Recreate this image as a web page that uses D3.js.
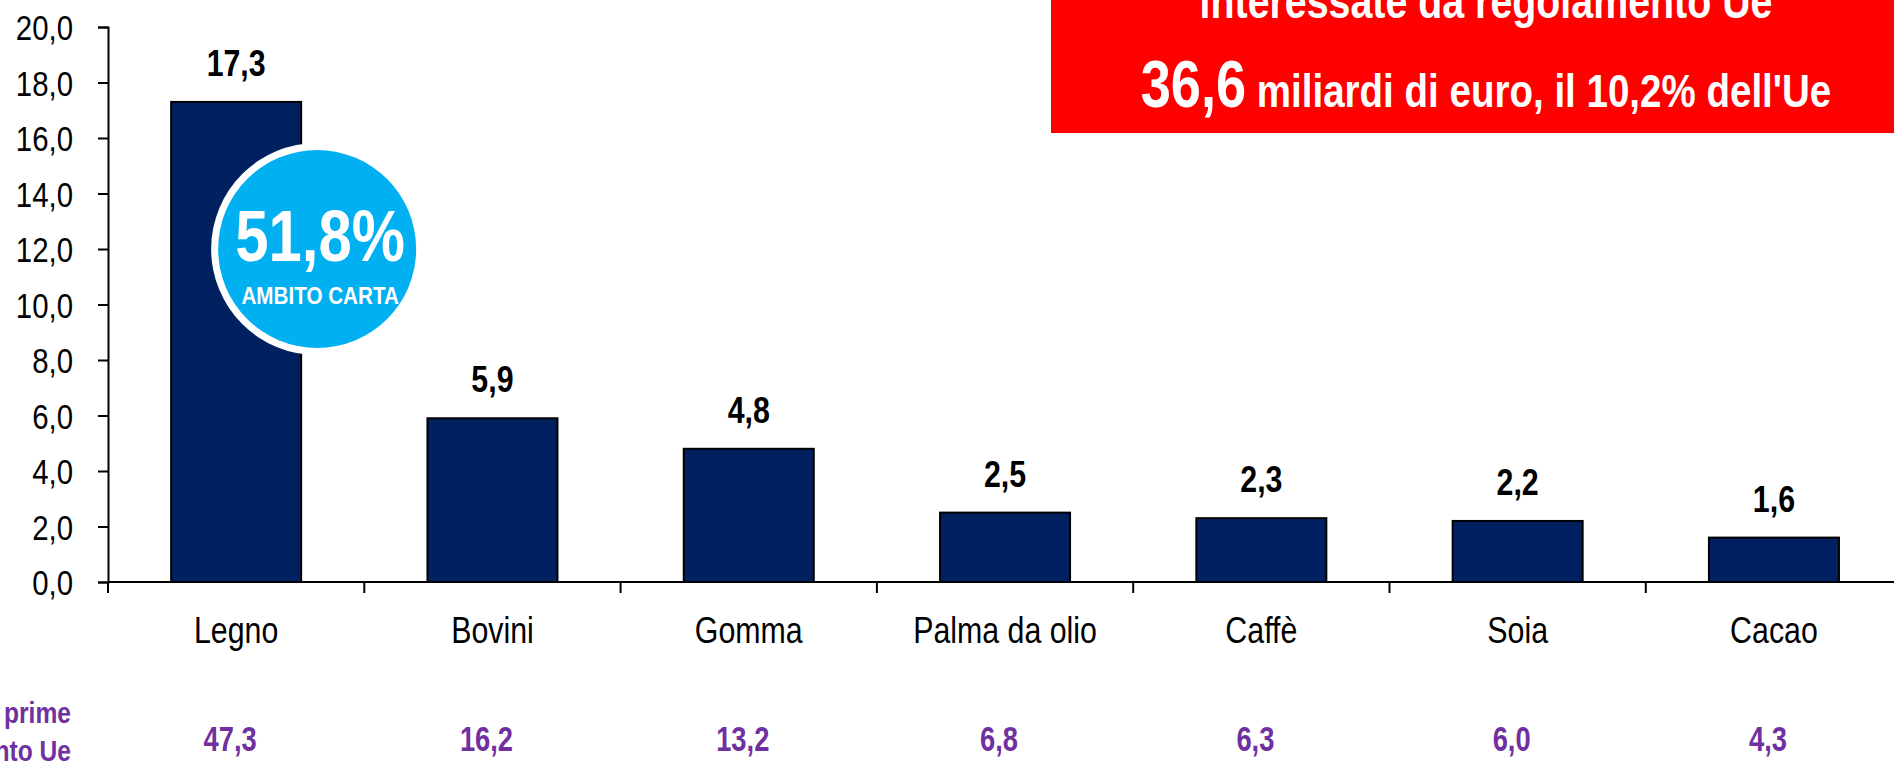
<!DOCTYPE html>
<html>
<head>
<meta charset="UTF-8">
<title>Materie prime interessate da regolamento Ue</title>
<script src="https://cdn.jsdelivr.net/npm/d3@7"></script>
<style>
body { margin: 0; background: #fff; }
svg { display: block; font-family: "Liberation Sans", Arial, sans-serif; }
.bar { fill: #002060; stroke: #000; stroke-width: 2px; }
.axis path, .axis line { stroke: #000; stroke-width: 2px; }
.axis text { font-size: 35px; fill: #000; }
.val { font-size: 37px; font-weight: bold; fill: #000; text-anchor: middle; }
.cat { font-size: 37px; fill: #000; text-anchor: middle; }
.share { font-size: 35px; font-weight: bold; fill: #7030a0; text-anchor: middle; }
.rowlab { font-size: 30px; font-weight: bold; fill: #7030a0; text-anchor: end; }
.box text { fill: #fff; font-weight: bold; }
.bubble text { fill: #fff; font-weight: bold; text-anchor: middle; }
</style>
</head>
<body>
<svg width="1894" height="767"></svg>
<script>
// dati
var categories = ["Legno", "Bovini", "Gomma", "Palma da olio", "Caffè", "Soia", "Cacao"];
var values = [17.3, 5.9, 4.8, 2.5, 2.3, 2.2, 1.6];
var euShare = [47.3, 16.2, 13.2, 6.8, 6.3, 6.0, 4.3];
var yTicks = [0, 2, 4, 6, 8, 10, 12, 14, 16, 18, 20];
var rowLabel = ["Quota % sulle materie prime", "interessate da regolamento Ue"];
var boxTitle = "interessate da regolamento Ue";
var boxTotal = "36,6";
var boxRest = " miliardi di euro, il 10,2% dell'Ue";
var bubbleValue = "51,8%";
var bubbleLabel = "AMBITO CARTA";

var svg = d3.select("svg");
var left = 108, axisY = 582, plotTop = 27, band = 256.3;
var narrow = 0.82;

function fmt(v) { return d3.format(".1f")(v).replace(".", ","); }
function place(x, y, k) { return "translate(" + x + "," + y + ") scale(" + (k || narrow) + ",1)"; }

var x = d3.scaleBand().domain(categories).range([left, left + band * categories.length]).padding(0);
var y = d3.scaleLinear().domain([0, 20]).range([axisY, plotTop]);
var barW = 130;
var cx = function(d) { return x(d) + x.bandwidth() / 2; };

// asse y
var yAxis = svg.append("g").attr("class", "axis")
    .attr("transform", "translate(" + left + ",0)")
    .call(d3.axisLeft(y).tickValues(yTicks).tickFormat(fmt).tickSize(10).tickSizeOuter(10));
yAxis.selectAll("text")
    .attr("x", null).attr("dy", "0.36em")
    .attr("transform", "translate(-35,0) scale(0.84,1)");

// barre
svg.selectAll(".bar")
  .data(categories)
  .enter().append("rect")
    .attr("class", "bar")
    .attr("x", function(d) { return cx(d) - barW / 2; })
    .attr("y", function(d, i) { return y(values[i]); })
    .attr("width", barW)
    .attr("height", function(d, i) { return y(0) - y(values[i]); });

// asse x con tacche fra le categorie
var xg = svg.append("g").attr("class", "axis");
xg.append("line")
    .attr("x1", left).attr("x2", x.range()[1] + 20)
    .attr("y1", axisY).attr("y2", axisY);
xg.selectAll(".tick")
  .data(categories.map(function(d) { return x(d); }).concat([x.range()[1]]))
  .enter().append("line")
    .attr("x1", function(d) { return d; }).attr("x2", function(d) { return d; })
    .attr("y1", axisY).attr("y2", axisY + 11);

// etichette valori
svg.selectAll(".val")
  .data(categories)
  .enter().append("text")
    .attr("class", "val")
    .attr("transform", function(d, i) { return place(cx(d), y(values[i]) - 26); })
    .text(function(d, i) { return fmt(values[i]); });

svg.selectAll(".cat")
  .data(categories)
  .enter().append("text")
    .attr("class", "cat")
    .attr("transform", function(d) { return place(cx(d), axisY + 61); })
    .text(function(d) { return d; });

svg.selectAll(".share")
  .data(categories)
  .enter().append("text")
    .attr("class", "share")
    .attr("transform", function(d) { return place(cx(d) - 6, axisY + 169, 0.78); })
    .text(function(d, i) { return fmt(euShare[i]); });

svg.selectAll(".rowlab")
  .data(rowLabel)
  .enter().append("text")
    .attr("class", "rowlab")
    .attr("transform", function(d, i) { return place(71, 723 + i * 38); })
    .text(function(d) { return d; });

// riquadro rosso
var box = svg.append("g").attr("class", "box");
box.append("rect").attr("x", 1051).attr("y", -10).attr("width", 900).attr("height", 143).attr("fill", "#ff0000");
box.append("text")
    .attr("transform", place(1486, 18))
    .attr("text-anchor", "middle")
    .style("font-size", "48px")
    .text(boxTitle);
var line2 = box.append("text")
    .attr("transform", place(1486, 107))
    .attr("text-anchor", "middle");
line2.append("tspan").style("font-size", "66px").text(boxTotal);
line2.append("tspan").style("font-size", "47px").text(boxRest);

// bolla
var bx = x("Legno") + x.bandwidth() / 2 + barW / 2 + 16, by = y(12);
var bubble = svg.append("g").attr("class", "bubble");
bubble.append("circle").attr("cx", bx).attr("cy", by).attr("r", 106).attr("fill", "#fff");
bubble.append("circle").attr("cx", bx).attr("cy", by).attr("r", 99).attr("fill", "#00b0f0");
bubble.append("text")
    .attr("transform", place(bx + 3, by + 12))
    .style("font-size", "73px")
    .text(bubbleValue);
bubble.append("text")
    .attr("transform", place(bx + 3, by + 55, 0.86))
    .style("font-size", "24px")
    .text(bubbleLabel);
</script>
</body>
</html>
